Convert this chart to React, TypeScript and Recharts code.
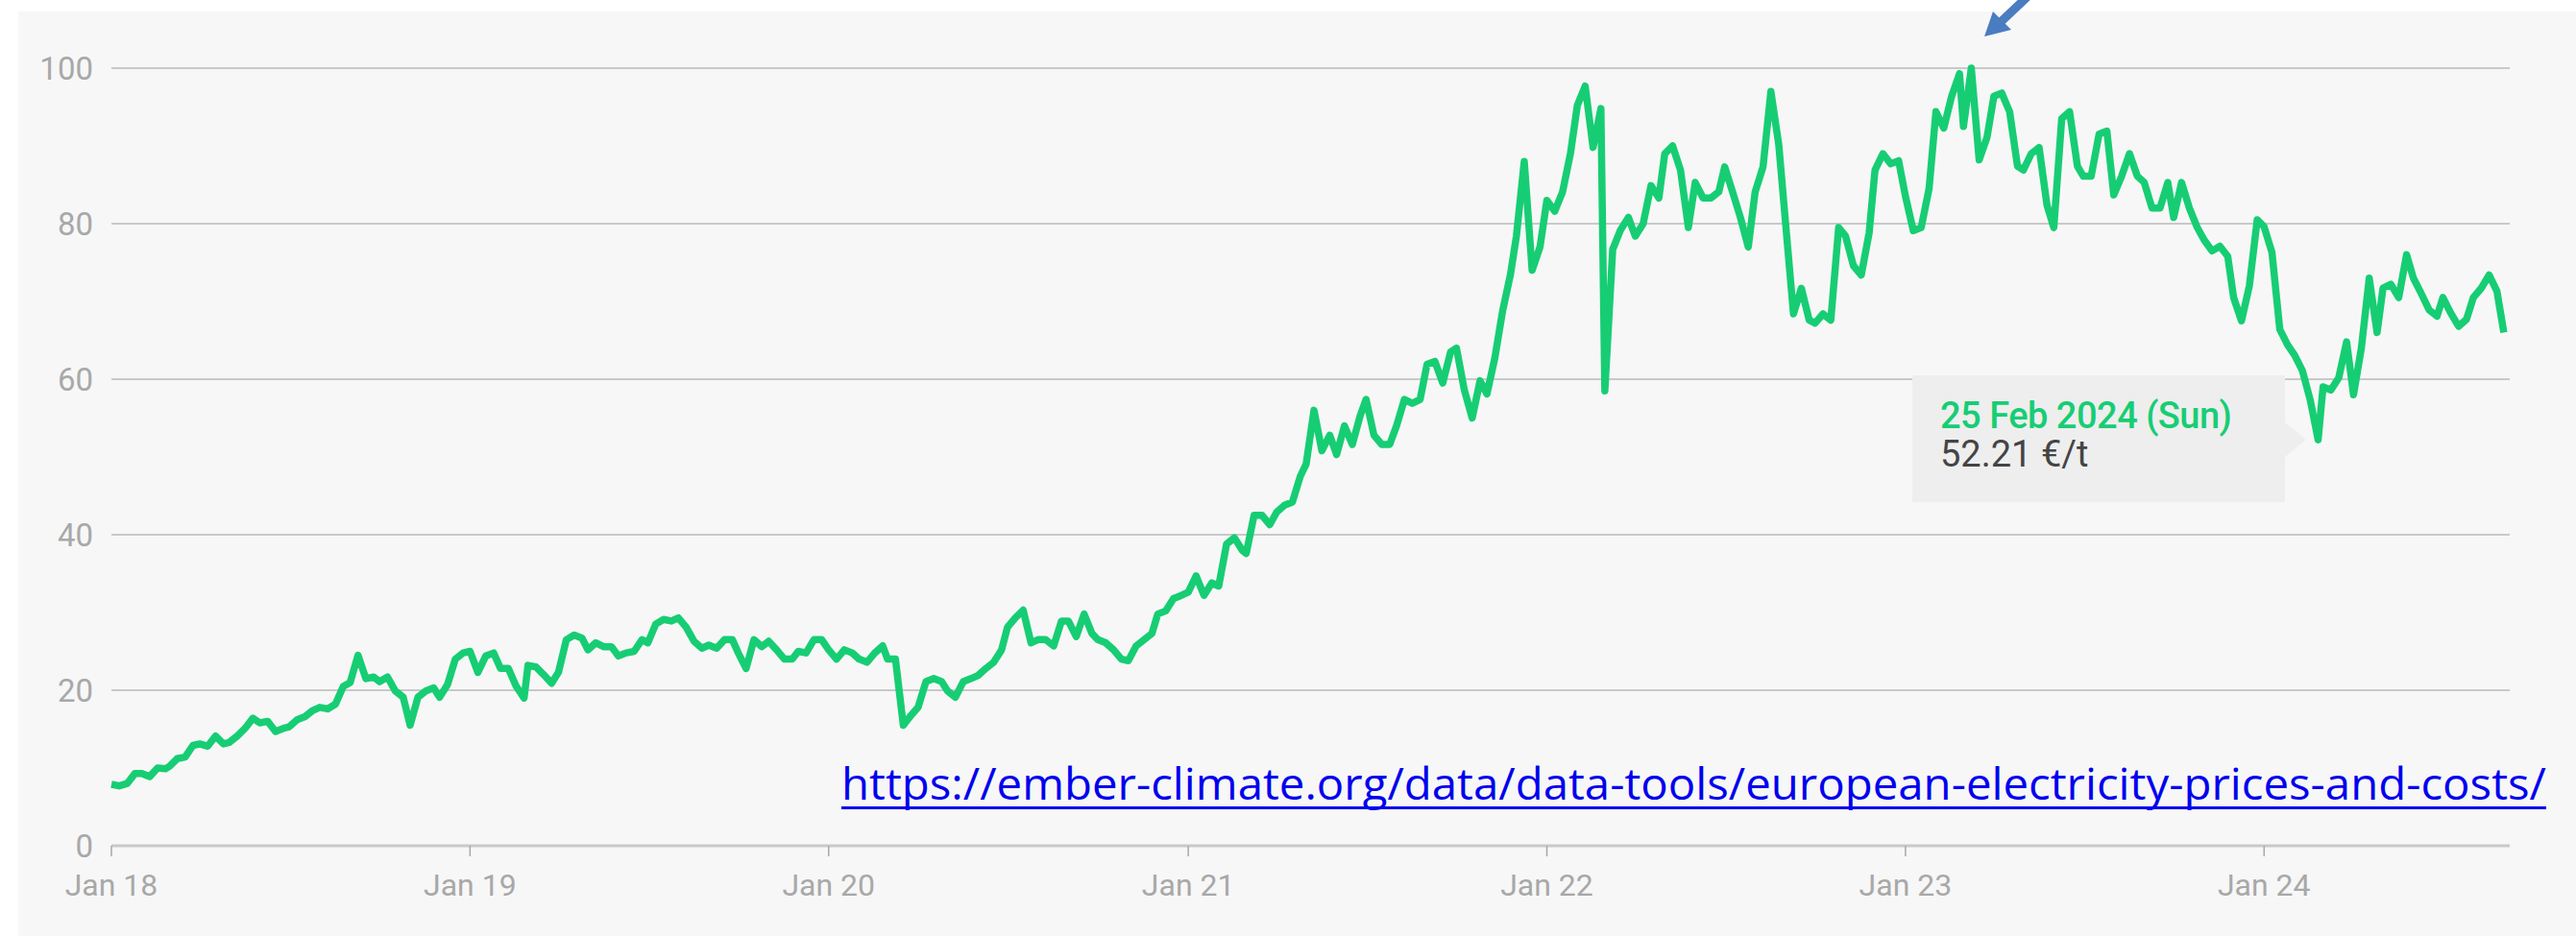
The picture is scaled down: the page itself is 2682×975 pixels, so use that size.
import { LineChart, Line, XAxis, YAxis, CartesianGrid, Tooltip } from 'recharts';

const years = [2018, 2019, 2020, 2021, 2022, 2023, 2024];
const sampleDays = [1, 9, 17, 25];

const prices2018 = [7.9, 7.7, 8.0, 9.3, 9.3, 8.9, 10.0, 9.9, 10.2, 11.2, 11.4, 12.9, 13.1, 12.8, 14.1, 13.1, 13.3, 14.1, 15.1, 16.4, 15.8, 16.0, 14.7, 15.1, 15.3, 16.2, 16.6, 17.4, 17.8, 17.6, 18.2, 20.5, 21.0, 24.5, 21.5, 21.7, 21.1, 21.7, 19.9, 19.1, 15.5, 19.1, 19.9, 20.3, 19.1, 20.7, 24.0, 24.8];
const prices2019 = [25.0, 22.3, 24.4, 24.8, 22.8, 22.8, 20.5, 19.0, 23.2, 23.0, 22.0, 20.9, 22.3, 26.5, 27.1, 26.7, 25.2, 26.1, 25.6, 25.6, 24.4, 24.8, 25.0, 26.5, 26.1, 28.5, 29.1, 28.9, 29.3, 28.1, 26.3, 25.4, 25.8, 25.4, 26.5, 26.5, 24.8, 22.8, 26.5, 25.6, 26.3, 25.2, 24.0, 24.0, 25.0, 24.8, 26.5, 26.5];
const prices2020 = [25.2, 24.0, 25.2, 24.8, 24.0, 23.6, 24.8, 25.7, 24.0, 24.0, 15.5, 16.8, 17.8, 21.1, 21.5, 21.1, 19.9, 19.1, 21.1, 21.5, 21.9, 22.8, 23.6, 25.2, 28.1, 29.3, 30.3, 26.1, 26.5, 26.5, 25.7, 28.9, 28.9, 26.9, 29.8, 27.3, 26.5, 26.1, 25.2, 24.0, 23.8, 25.7, 26.5, 27.3, 29.8, 30.2, 31.8, 32.2];
const prices2021 = [32.6, 34.7, 32.2, 33.8, 33.4, 38.8, 39.6, 38.0, 37.6, 42.5, 42.5, 41.3, 42.9, 43.8, 44.2, 47.5, 49.1, 56.0, 50.8, 52.8, 50.3, 54.0, 51.6, 55.3, 57.4, 52.8, 51.6, 51.6, 54.0, 57.4, 56.9, 57.4, 61.9, 62.3, 59.5, 63.5, 64.0, 58.6, 55.0, 59.8, 58.1, 62.7, 68.8, 73.5, 78.4, 88.0, 74.0, 77.0];
const prices2022 = [83.0, 81.6, 84.1, 89.0, 95.2, 97.7, 89.8, 94.8, 58.5, 76.7, 79.2, 80.8, 78.4, 80.0, 84.9, 83.3, 89.0, 90.0, 86.9, 79.5, 85.3, 83.3, 83.3, 84.1, 87.3, 84.1, 80.8, 77.0, 84.1, 87.3, 97.0, 90.2, 80.0, 68.4, 71.7, 67.6, 67.2, 68.4, 67.6, 79.5, 78.4, 74.6, 73.4, 78.8, 86.9, 89.0, 87.7, 88.1];
const prices2023 = [83.5, 79.1, 79.5, 84.5, 94.4, 92.3, 96.4, 99.3, 92.5, 100.0, 88.2, 91.1, 96.4, 96.8, 94.4, 87.4, 86.9, 89.0, 89.8, 82.4, 79.5, 93.5, 94.4, 87.4, 86.1, 86.1, 91.5, 91.9, 83.7, 86.1, 89.0, 86.1, 85.3, 82.0, 82.0, 85.3, 80.8, 85.3, 82.0, 79.5, 77.9, 76.5, 77.1, 75.8, 70.5, 67.5, 72.0, 80.5];
const prices2024 = [79.6, 76.3, 66.4, 64.4, 63.1, 61.1, 57.3, 52.21, 59.0, 58.6, 60.2, 64.8, 58.0, 64.0, 73.0, 66.0, 71.7, 72.2, 70.5, 76.0, 73.0, 71.0, 68.9, 68.1, 70.5, 68.5, 66.8, 67.7, 70.5, 71.7, 73.4, 71.3, 66.0];

const pricesByYear = [prices2018, prices2019, prices2020, prices2021, prices2022, prices2023, prices2024];

const yTicks = [0, 20, 40, 60, 80, 100];
const xTicks = years.map((y) => Date.UTC(y, 0, 1));
const xDomain = [Date.UTC(2018, 0, 1), Date.UTC(2024, 8, 7)];

const monthNames = ['Jan', 'Feb', 'Mar', 'Apr', 'May', 'Jun', 'Jul', 'Aug', 'Sep', 'Oct', 'Nov', 'Dec'];
const dayNames = ['Sun', 'Mon', 'Tue', 'Wed', 'Thu', 'Fri', 'Sat'];

const sourceUrl = 'https://ember-climate.org/data/data-tools/european-electricity-prices-and-costs/';

const data = pricesByYear.flatMap((values, yi) =>
  values.map((price, i) => ({
    t: Date.UTC(years[yi], Math.floor(i / 4), sampleDays[i % 4]),
    price,
  }))
);

// the point the tooltip is parked on
const tooltipIndex = data.findIndex((d) => d.t === Date.UTC(2024, 1, 25));

const GREEN = '#17cd74';

const PriceTooltip = ({ active, payload }: any) => {
  if (!active || !payload || !payload.length) return null;
  const p = payload[0].payload;
  const d = new Date(p.t);
  const label = `${d.getUTCDate()} ${monthNames[d.getUTCMonth()]} ${d.getUTCFullYear()} (${dayNames[d.getUTCDay()]})`;
  return (
    <div
      style={{
        position: 'relative',
        width: 388,
        height: 132,
        boxSizing: 'border-box',
        padding: '22px 0 0 29px',
        background: '#eeeeee',
        fontFamily: 'Roboto, sans-serif',
        lineHeight: '40px',
        whiteSpace: 'nowrap',
      }}
    >
      <div style={{ color: GREEN, fontSize: 38, fontWeight: 500, letterSpacing: -0.5 }}>{label}</div>
      <div style={{ color: '#444', fontSize: 38 }}>{p.price.toFixed(2)} €/t</div>
      <div
        style={{
          position: 'absolute',
          right: -22,
          top: 49,
          width: 0,
          height: 0,
          borderTop: '18px solid transparent',
          borderBottom: '18px solid transparent',
          borderLeft: '22px solid #eeeeee',
        }}
      />
    </div>
  );
};

const App = () => {
  return (
    <div style={{ position: 'absolute', left: 0, top: 0, width: 2682, height: 975, background: '#fff', overflow: 'hidden' }}>
      {/* grey card behind the chart */}
      <div style={{ position: 'absolute', left: 19, top: 12, right: 0, bottom: 0, background: '#f7f7f7' }} />

      <div style={{ position: 'absolute', left: 0, top: 0 }}>
        <LineChart width={2682} height={975} data={data} margin={{ top: 71, right: 69, bottom: 34, left: 0 }}>
          <CartesianGrid vertical={false} stroke="#c9c9c9" strokeWidth={2} />
          <XAxis
            dataKey="t"
            type="number"
            domain={xDomain}
            ticks={xTicks}
            interval={0}
            tickFormatter={(t: number) => `Jan ${String(new Date(t).getUTCFullYear()).slice(2)}`}
            axisLine={{ stroke: '#c9c9c9', strokeWidth: 3 }}
            tickLine={{ stroke: '#a8a8a8', strokeWidth: 1.5 }}
            tickSize={11}
            tickMargin={18}
            height={60}
            tick={{ fill: '#a8a8a8', fontSize: 32, fontFamily: 'Roboto, sans-serif' }}
          />
          <YAxis
            domain={[0, 100]}
            ticks={yTicks}
            width={116}
            axisLine={false}
            tickLine={false}
            tickSize={8}
            tickMargin={11}
            tick={{ fill: '#a8a8a8', fontSize: 33, fontFamily: 'Roboto, sans-serif' }}
          />
          <Tooltip
            active
            defaultIndex={tooltipIndex}
            position={{ x: 1991, y: 391 }}
            cursor={false}
            isAnimationActive={false}
            content={<PriceTooltip />}
          />
          <Line
            type="linear"
            dataKey="price"
            stroke={GREEN}
            strokeWidth={7.5}
            strokeLinejoin="round"
            dot={false}
            activeDot={false}
            isAnimationActive={false}
          />
        </LineChart>
      </div>

      {/* annotations pasted on top: arrow to the peak and the source link */}
      <svg width={2682} height={975} style={{ position: 'absolute', left: 0, top: 0, pointerEvents: 'none' }}>
        <line x1={2084} y1={22} x2={2122} y2={-14} stroke="#4a7cc0" strokeWidth={9} />
        <polygon points="2066,38 2075,12 2094,31" fill="#4a7cc0" />
        <text
          x={876}
          y={833}
          fontFamily="'Open Sans', sans-serif"
          fontSize={46}
          fill="#0000ee"
          textLength={1775}
          lengthAdjust="spacingAndGlyphs"
        >
          {sourceUrl}
        </text>
        <rect x={876} y={840} width={1775} height={3} fill="#0000ee" />
      </svg>
    </div>
  );
};

export default App;
